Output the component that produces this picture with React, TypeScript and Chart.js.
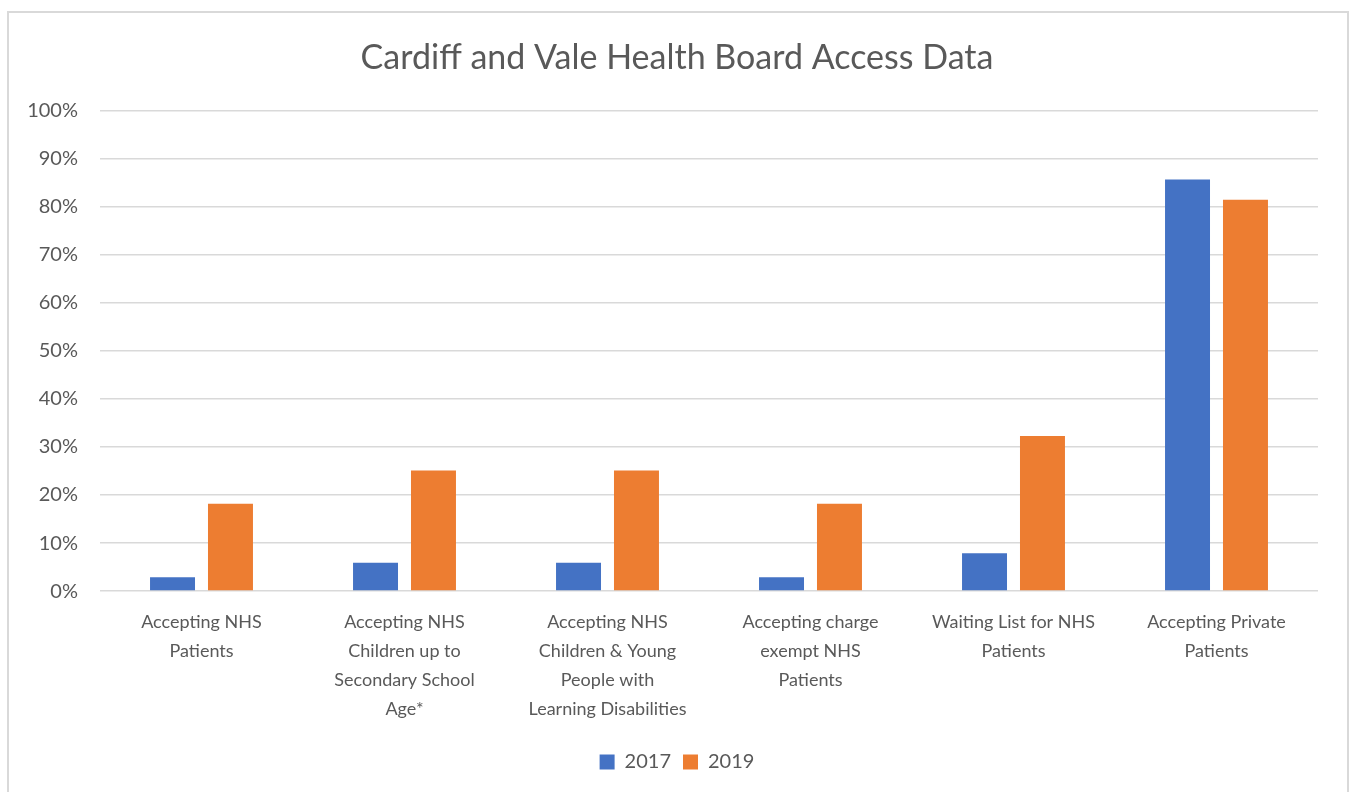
import React, { useEffect, useRef } from "react";
import { Chart, registerables } from "chart.js";

Chart.register(...registerables);

const categories: string[][] = [
  ["Accepting NHS", "Patients"],
  ["Accepting NHS", "Children up to", "Secondary School", "Age*"],
  ["Accepting NHS", "Children & Young", "People with", "Learning Disabilities"],
  ["Accepting charge", "exempt NHS", "Patients"],
  ["Waiting List for NHS", "Patients"],
  ["Accepting Private", "Patients"],
];
const values2017: number[] = [2.9, 5.9, 5.9, 2.9, 7.9, 85.7];
const values2019: number[] = [18.2, 25.1, 25.1, 18.2, 32.3, 81.5];
const seriesNames: string[] = ["2017", "2019"];
const yTicks: number[] = [0, 10, 20, 30, 40, 50, 60, 70, 80, 90, 100];

const FONT = "Lato, 'Open Sans', sans-serif";
const TEXT = "#595959";

export default function App() {
  const ref = useRef<HTMLCanvasElement | null>(null);

  useEffect(() => {
    if (!ref.current) return;
    const chart = new Chart(ref.current, {
      type: "bar",
      data: {
        labels: categories,
        datasets: [
          {
            label: seriesNames[0],
            data: values2017,
            backgroundColor: "#4472C4",
            categoryPercentage: 0.571,
            barPercentage: 0.776,
          },
          {
            label: seriesNames[1],
            data: values2019,
            backgroundColor: "#ED7D31",
            categoryPercentage: 0.571,
            barPercentage: 0.776,
          },
        ],
      },
      options: {
        responsive: false,
        animation: false,
        layout: { padding: { left: 0, right: 0, top: 0, bottom: 10 } },
        plugins: {
          title: {
            display: true,
            text: "Cardiff and Vale Health Board Access Data",
            color: TEXT,
            font: { family: FONT, size: 34, weight: "normal", lineHeight: 1.2 },
            padding: { top: 38, bottom: 32 },
          },
          legend: {
            position: "bottom",
            labels: {
              color: TEXT,
              font: { family: FONT, size: 20 },
              boxWidth: 15,
              boxHeight: 15,
              padding: 12,
            },
          },
          tooltip: { enabled: false },
        },
        scales: {
          x: {
            grid: { display: false },
            border: { display: false },
            afterFit: (scale: any) => {
              scale.height += 7;
            },
            ticks: {
              color: TEXT,
              font: { family: FONT, size: 18, lineHeight: 1.61 },
              padding: 9,
              maxRotation: 0,
              autoSkip: false,
            },
          },
          y: {
            min: 0,
            max: 100,
            afterFit: (scale: any) => {
              scale.width = 100;
            },
            afterBuildTicks: (scale: any) => {
              scale.ticks = yTicks.map((v) => ({ value: v }));
            },
            grid: { color: "#d9d9d9", lineWidth: 1.5, drawTicks: false },
            border: { display: false },
            ticks: {
              color: TEXT,
              font: { family: FONT, size: 20 },
              padding: 22,
              callback: (v: any) => v + "%",
            },
          },
          yRightSpace: {
            type: "linear",
            position: "right",
            display: true,
            min: 0,
            max: 100,
            afterFit: (scale: any) => {
              scale.width = 36;
            },
            grid: { display: false, drawTicks: false },
            border: { display: false },
            ticks: { display: false },
          },
        },
      },
    });
    return () => chart.destroy();
  }, []);

  return (
    <div style={{ position: "fixed", left: 0, top: 0, width: 1354, height: 792, background: "#fff" }}>
      <canvas ref={ref} width={1354} height={792} style={{ position: "absolute", left: 0, top: 0 }} />
      <div
        style={{
          position: "absolute",
          left: 7,
          top: 11,
          width: 1342,
          height: 800,
          border: "2px solid #d9d9d9",
          boxSizing: "border-box",
          pointerEvents: "none",
        }}
      />
    </div>
  );
}
